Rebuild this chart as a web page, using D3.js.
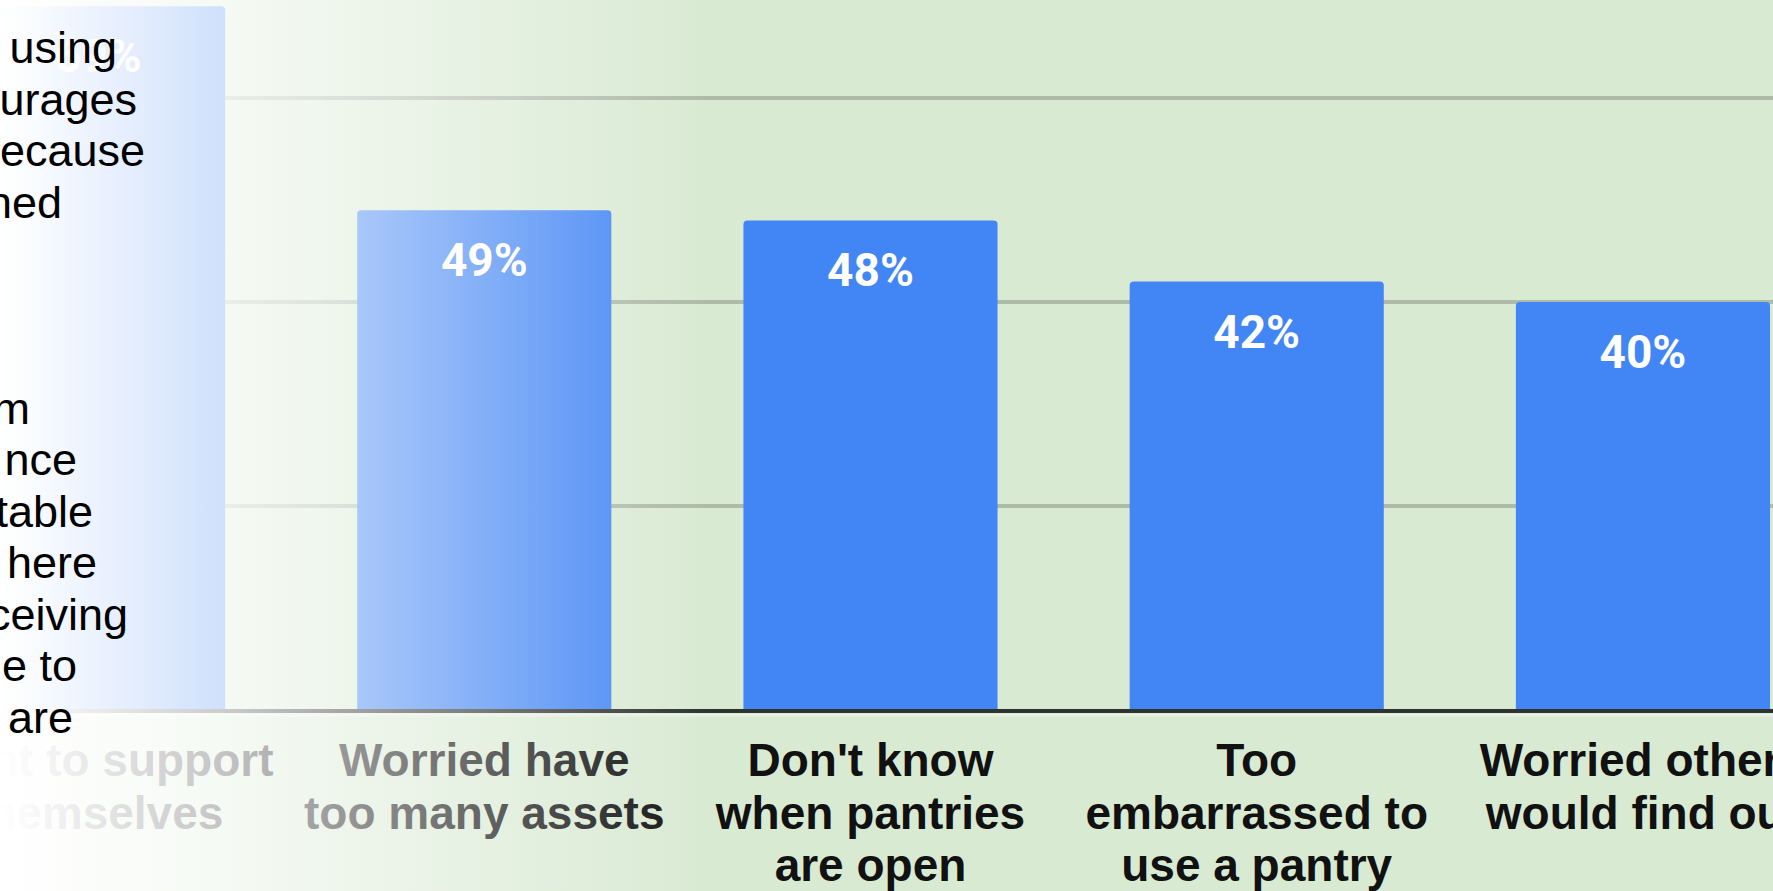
<!DOCTYPE html>
<html>
<head>
<meta charset="utf-8">
<script src="https://cdn.jsdelivr.net/npm/d3@7"></script>
<style>
  html, body { margin: 0; padding: 0; background: #d9ead3; overflow: hidden; }
  svg { display: block; }
</style>
</head>
<body>
<svg id="chart" width="1773" height="891"></svg>
<script>
const categories = [
    ["Want to support", "themselves"],
    ["Worried have", "too many assets"],
    ["Don't know", "when pantries", "are open"],
    ["Too", "embarrassed to", "use a pantry"],
    ["Worried others", "would find out"]
];
const values = [69, 49, 48, 42, 40];
const gridTicks = [20, 40, 60];

// right-hand ends of the text box lines that overlap the chart (blank = cut off)
const noteLines = ["using", "urages", "ecause", "hed", "", "", "", "m", "nce", "table", "here", "ceiving", "e to", "are"];
const noteEnds = [117, 137, 145, 62, 0, 0, 0, 30, 77, 93, 97, 128, 77, 73];

const width = 1773, height = 891;
const baseY = 710;

const svg = d3.select("#chart");
const keys = categories.map(d => d.join(" "));

const x = d3.scaleBand()
    .domain(keys)
    .range([-29, 1770])
    .paddingInner(0.342)
    .paddingOuter(0);

const y = d3.scaleLinear()
    .domain([0, 80])
    .range([baseY, baseY - 816]);

svg.append("rect")
    .attr("width", width).attr("height", height)
    .attr("fill", "#d9ead3");

// gridlines
svg.append("g").selectAll("line")
    .data(gridTicks)
    .enter().append("line")
    .attr("x1", 0).attr("x2", width)
    .attr("y1", d => y(d)).attr("y2", d => y(d))
    .attr("stroke", "#000").attr("stroke-opacity", 0.2)
    .attr("stroke-width", 4);

// bars
svg.append("g").selectAll("path")
    .data(values)
    .enter().append("path")
    .attr("fill", "#4285f4")
    .attr("d", (d, i) => {
        const x0 = x(keys[i]), w = x.bandwidth(), t = y(d), r = 4;
        return `M${x0},${baseY}V${t + r}Q${x0},${t} ${x0 + r},${t}H${x0 + w - r}Q${x0 + w},${t} ${x0 + w},${t + r}V${baseY}Z`;
    });

// value labels
svg.append("g").selectAll("text")
    .data(values)
    .enter().append("text")
    .attr("x", (d, i) => x(keys[i]) + x.bandwidth() / 2)
    .attr("y", d => y(d) + 66)
    .attr("text-anchor", "middle")
    .attr("fill", "#fff")
    .style("font-family", "Roboto, 'Liberation Sans', Arial, sans-serif")
    .style("font-weight", "700")
    .style("font-size", "46px")
    .text(d => d + "%");

// axis line
svg.append("line")
    .attr("x1", 0).attr("x2", width)
    .attr("y1", baseY + 1).attr("y2", baseY + 1)
    .attr("stroke", "#2f332f").attr("stroke-width", 4);
svg.append("line")
    .attr("x1", 0).attr("x2", width)
    .attr("y1", baseY + 5).attr("y2", baseY + 5)
    .attr("stroke", "#fff").attr("stroke-opacity", 0.35).attr("stroke-width", 3);

// category labels
const labels = svg.append("g").selectAll("text")
    .data(categories)
    .enter().append("text")
    .attr("text-anchor", "middle")
    .attr("fill", "#111")
    .style("font-family", "'Liberation Sans', Arial, sans-serif")
    .style("font-weight", "700")
    .style("font-size", "46px");

labels.selectAll("tspan")
    .data((d, i) => d.map(line => ({line, i})))
    .enter().append("tspan")
    .attr("x", d => x(keys[d.i]) + x.bandwidth() / 2)
    .attr("y", (d, j) => 776 + j * 52.5)
    .text(d => d.line);

// white fade over the left side of the chart
const defs = svg.append("defs");
const fade = defs.append("linearGradient")
    .attr("id", "fade")
    .attr("gradientUnits", "userSpaceOnUse")
    .attr("x1", 0).attr("x2", 707).attr("y1", 0).attr("y2", 0);
fade.append("stop").attr("offset", 0).attr("stop-color", "#fff").attr("stop-opacity", 1);
fade.append("stop").attr("offset", 0.035).attr("stop-color", "#fff").attr("stop-opacity", 0.98);
fade.append("stop").attr("offset", 0.317).attr("stop-color", "#fff").attr("stop-opacity", 0.75);
fade.append("stop").attr("offset", 1).attr("stop-color", "#fff").attr("stop-opacity", 0);

svg.append("rect")
    .attr("width", 720).attr("height", height)
    .attr("fill", "url(#fade)");

// text box lines
svg.append("g").selectAll("text")
    .data(noteLines)
    .enter().append("text")
    .attr("x", (d, i) => noteEnds[i])
    .attr("y", (d, i) => 63 + i * 51.5)
    .attr("text-anchor", "end")
    .attr("fill", "#000")
    .style("font-family", "'Liberation Sans', Arial, sans-serif")
    .style("font-size", "45px")
    .text(d => d);
</script>
</body>
</html>
